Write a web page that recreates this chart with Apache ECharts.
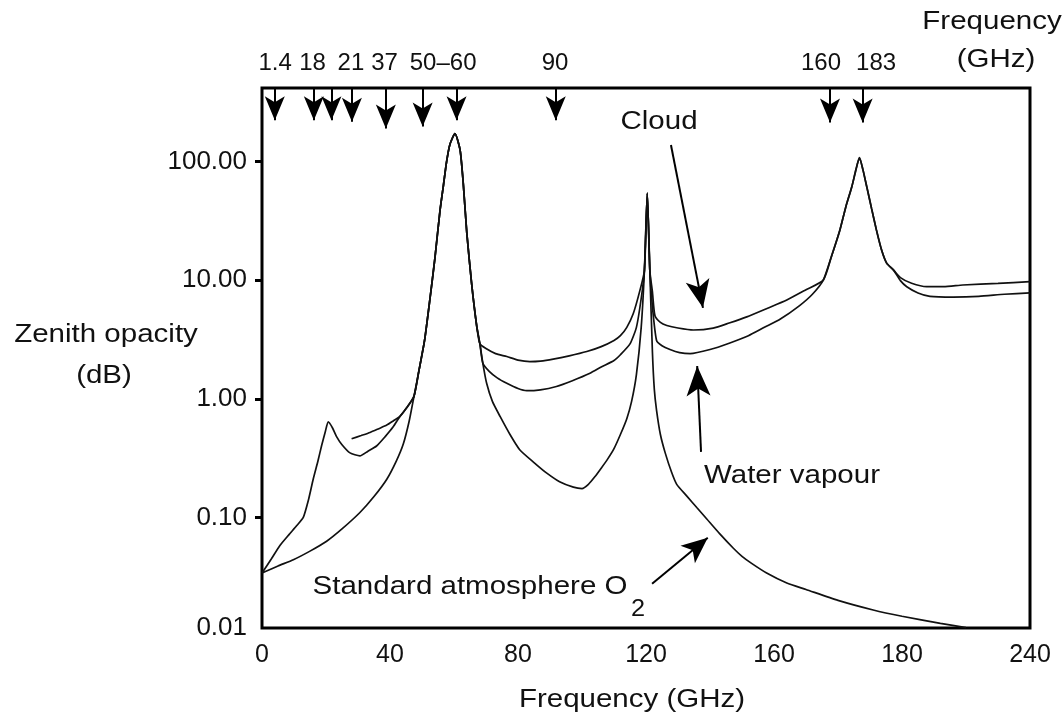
<!DOCTYPE html>
<html>
<head>
<meta charset="utf-8">
<style>
  html, body { margin: 0; padding: 0; background: #fff; }
  #chart { width: 1063px; height: 721px; }
</style>
<script src="https://cdn.jsdelivr.net/npm/echarts@6/dist/echarts.min.js"></script>
</head>
<body>
<div id="chart"></div>
<script>
// tick labels (the source figure prints "180" where 200 should be)
const xTickText = ['0', '40', '80', '120', '160', '180', '240'];
// the figure writes "0.01" on its bottom edge, which sits a little above a true 0.01
const yBottom = 0.0117;
const yTop = 416;
const yTickVals = [yBottom, 0.1, 1, 10, 100];

// window / band arrows along the top
const bandPos = [4, 16.2, 21.7, 28.1, 38.7, 50.2, 60.8, 91.8, 177.5, 187.7];
const bandEnd = [222, 222, 222, 216, 190, 197, 222, 222, 213, 213];
const bandLabelPos = [4.1, 15.8, 27.8, 38.3, 56.6, 91.6, 174.7, 191.9];
const bandLabelText = ['1.4', '18', '21', '37', '50–60', '90', '160', '183'];

// shared pieces of the curves [GHz, dB]
const peak60 = [[47.5, 1.05], [49, 1.7], [50.8, 3.1], [52.5, 7], [54, 15], [55.6, 38], [56.7, 63], [57.7, 100],
  [58.75, 140], [60.3, 172], [61.9, 125], [62.9, 65], [64, 25], [65.5, 9.4], [67.1, 4.1], [68.1, 2.9]];
const spike118 = [[119.5, 12], [120.4, 54], [121.2, 12]];
const peak183 = [[175.4, 10], [178, 16], [180.6, 26.5], [182.5, 42], [184.3, 61], [185.6, 85], [186.7, 108],
  [187.8, 85], [189, 61], [190.5, 40], [192, 26.5], [193.6, 18], [195.2, 13.9], [197.3, 12.2]];

// standard atmosphere O2
const o2Low = [[0, 0.034], [5, 0.039], [9.8, 0.044], [15, 0.052], [20.2, 0.063], [25, 0.08], [30.6, 0.11],
  [35, 0.15], [39, 0.21], [42, 0.3], [44.2, 0.42], [46, 0.65]];
const o2Trough = [[69, 2.0], [70.2, 1.35], [72, 0.95], [74.4, 0.71], [77.5, 0.5], [80.6, 0.37], [85, 0.29],
  [89, 0.236], [93, 0.2], [97.3, 0.18], [100, 0.175], [102, 0.19], [104, 0.22], [106, 0.26], [108, 0.31],
  [110, 0.38], [112, 0.5], [114, 0.68], [115.5, 0.95], [117, 1.6], [118.5, 4]];
const o2Tail = [[122, 2.5], [122.6, 1.2], [123.3, 0.8], [124.5, 0.5], [126, 0.35], [128, 0.24], [129.6, 0.19],
  [132.7, 0.152], [136, 0.12], [139, 0.097], [143, 0.073], [147.3, 0.055], [150, 0.047], [153, 0.041],
  [157.7, 0.034], [164, 0.028], [170, 0.0247], [180, 0.02], [191, 0.0166], [200, 0.0147], [212, 0.0128],
  [220, 0.0118]];

// water vapour
const wvLow = [[0, 0.034], [3, 0.045], [5.6, 0.058], [8.5, 0.072], [10.8, 0.085], [12.9, 0.1], [14.5, 0.14],
  [16, 0.21], [17.5, 0.3], [18.6, 0.4], [19.8, 0.53], [20.7, 0.64], [22, 0.57], [23.3, 0.48], [25, 0.41],
  [27.5, 0.35], [30.6, 0.33], [33, 0.36], [35.8, 0.4], [38.5, 0.48], [41, 0.58], [43.1, 0.71], [45.5, 0.86]];
const wvMid = [[69, 2.0], [71, 1.7], [73.5, 1.5], [76.5, 1.35], [80, 1.22], [82.7, 1.17], [87, 1.19], [92, 1.27],
  [97, 1.42], [102.5, 1.64], [106, 1.85], [110, 2.1], [112, 2.35], [115, 2.9], [117, 4], [118.5, 7]];
const wvHigh = [[122, 6], [123.3, 3.1], [125, 2.8], [127.5, 2.6], [130.5, 2.45], [133.8, 2.4], [140, 2.6],
  [146, 2.94], [152, 3.4], [157, 4], [162, 4.7], [168, 6.1], [172, 7.6]];
const wvTail = [[199.5, 9.9], [201.5, 8.8], [205, 7.8], [208.75, 7.3], [216, 7.2], [224, 7.3], [232, 7.6], [240, 7.8]];

// cloud
const clLow = [[28, 0.46], [31, 0.49], [33.75, 0.52], [36.5, 0.56], [39, 0.6], [41, 0.65], [43.1, 0.71], [45.5, 0.86]];
const clMid = [[70, 2.65], [73, 2.4], [76.5, 2.27], [80, 2.12], [83.7, 2.06], [87, 2.08], [91, 2.16], [96, 2.3],
  [101.5, 2.5], [106, 2.75], [110, 3.1], [112, 3.4], [114, 4], [116, 5.2], [118, 8]];
const clHigh = [[122, 8], [122.8, 5], [124.5, 4.4], [126.5, 4.15], [130, 3.95], [134.8, 3.8], [141, 3.94],
  [146, 4.35], [151.5, 4.9], [158, 5.8], [164, 6.8], [170, 8.3]];
const clTail = [[199.5, 10.5], [203, 9.4], [207.7, 8.8], [213, 8.8], [219, 9.1], [230, 9.4], [240, 9.7]];

// annotation arrows [tail, tip]
const cloudArrow = [[127.8, 137.7], [137.8, 5.84]];
const vapourArrow = [[137.2, 0.357], [136, 1.89]];
const o2Arrow = [[121.9, 0.0276], [139.3, 0.0673]];

const o2 = o2Low.concat(peak60, o2Trough, spike118, o2Tail);
const water = wvLow.concat(peak60, wvMid, spike118, wvHigh, peak183, wvTail);
const cloud = clLow.concat(peak60, clMid, spike118, clHigh, peak183, clTail);

const FONT = '"Liberation Sans", Arial, Helvetica, sans-serif';
const INK = '#111';

const chart = echarts.init(document.getElementById('chart'), null, { renderer: 'canvas' });

function curve(name, data, extra) {
  return Object.assign({
    name: name,
    type: 'line',
    data: data,
    showSymbol: false,
    smooth: 0.2,
    lineStyle: { color: INK, width: 1.7 },
    silent: true,
    z: 3
  }, extra || {});
}

const bandLines = bandPos.map((f, i) => [
  { coord: [f, yTop] },
  { coord: [f, bandEnd[i]] }
]);

function annoLine(a, size) {
  return [{ coord: a[0] }, { coord: a[1], symbolSize: size }];
}

function label(text, x, y, size, sx) {
  return {
    type: 'text',
    x: x,
    y: y,
    scaleX: sx || 1.18,
    style: {
      text: text,
      fontFamily: FONT,
      fontSize: size,
      fill: INK,
      align: 'center',
      verticalAlign: 'middle'
    }
  };
}

const options = {
  backgroundColor: '#fff',
  animation: false,
  grid: {
    left: 262,
    right: 33,
    top: 88,
    bottom: 93,
    show: true,
    borderColor: '#000',
    borderWidth: 3,
    backgroundColor: '#fff',
    containLabel: false,
    outerBoundsMode: 'none'
  },
  xAxis: [
    {
      type: 'value',
      min: 0,
      max: 240,
      interval: 40,
      axisLine: { show: false },
      axisTick: { show: false },
      splitLine: { show: false },
      axisLabel: {
        margin: 15,
        fontFamily: FONT,
        fontSize: 25,
        color: INK,
        formatter: (v) => xTickText[Math.round(v / 40)]
      }
    },
    {
      type: 'value',
      position: 'top',
      min: 0,
      max: 240,
      axisLine: { show: false },
      axisTick: { show: false },
      splitLine: { show: false },
      axisLabel: {
        customValues: bandLabelPos,
        margin: 13,
        fontFamily: FONT,
        fontSize: 24,
        color: INK,
        formatter: (v) => bandLabelText[bandLabelPos.indexOf(v)]
      }
    }
  ],
  yAxis: {
    type: 'log',
    logBase: 10,
    min: yBottom,
    max: yTop,
    axisLine: { show: false },
    splitLine: { show: false },
    axisTick: {
      show: true,
      length: 7,
      customValues: [0.1, 1, 10, 100],
      lineStyle: { color: '#000', width: 3 }
    },
    axisLabel: {
      customValues: yTickVals,
      margin: 15,
      fontFamily: FONT,
      fontSize: 26,
      color: INK,
      formatter: (v) => Number(v).toFixed(2)
    }
  },
  series: [
    curve('Standard atmosphere O2', o2, {
      markLine: {
        silent: true,
        symbol: ['none', 'arrow'],
        symbolSize: [15, 24],
        label: { show: false },
        lineStyle: { color: '#000', width: 2, type: 'solid' },
        data: bandLines.concat([
          annoLine(cloudArrow, [18, 28]),
          annoLine(vapourArrow, [18, 30]),
          annoLine(o2Arrow, [17, 26])
        ])
      }
    }),
    curve('Water vapour', water),
    curve('Cloud', cloud)
  ],
  graphic: [
    label('Zenith opacity', 106, 335, 25),
    label('(dB)', 104, 376, 25),
    label('Frequency (GHz)', 632, 700, 25),
    label('Frequency', 992, 22, 25),
    label('(GHz)', 996, 60, 25),
    label('Cloud', 659, 122, 25),
    label('Water vapour', 792, 476, 25),
    label('Standard atmosphere O', 470, 587, 25),
    label('2', 638, 610, 23, 1.1)
  ]
};

chart.setOption(options);
</script>
</body>
</html>
